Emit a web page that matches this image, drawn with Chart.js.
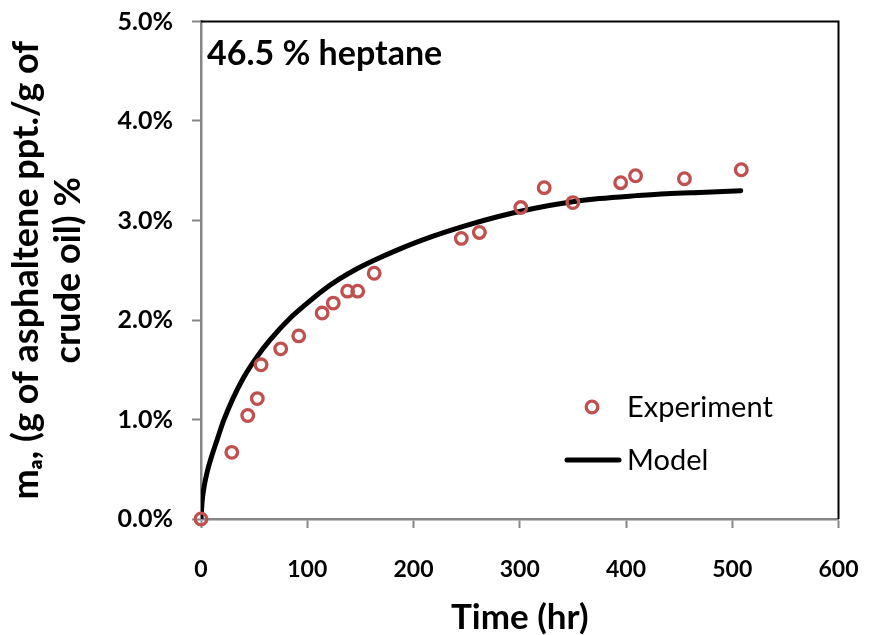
<!DOCTYPE html>
<html>
<head>
<meta charset="utf-8">
<script src="https://cdn.jsdelivr.net/npm/chart.js@4"></script>
<style>
  html, body { margin: 0; padding: 0; background: #fff; }
  #wrap { width: 869px; height: 635px; }
</style>
</head>
<body>
<div id="wrap"><canvas id="myChart"></canvas></div>
<script>
// experiment (time in hr, precipitated asphaltene in %)
const expTime = [0, 29, 44, 53, 56.5, 75, 92, 114, 124.5, 138, 147.5, 163, 245, 262, 301, 323, 350, 395, 409, 455, 508.5];
const expValue = [0, 0.67, 1.04, 1.21, 1.55, 1.71, 1.84, 2.07, 2.17, 2.29, 2.29, 2.47, 2.82, 2.88, 3.13, 3.33, 3.18, 3.38, 3.45, 3.42, 3.51];

// model curve
const modelTime = [0, 1, 3, 6, 10, 15, 21, 30, 40, 52, 65, 84, 100, 115, 130, 146, 165, 184, 210, 250, 280, 313, 345, 375, 410, 438, 475, 508];
const modelValue = [0, 0.17, 0.33, 0.48, 0.63, 0.79, 0.98, 1.21, 1.42, 1.62, 1.8, 2.02, 2.17, 2.3, 2.41, 2.51, 2.61, 2.7, 2.81, 2.95, 3.04, 3.12, 3.18, 3.22, 3.25, 3.27, 3.285, 3.3];

const xTicks = [0, 100, 200, 300, 400, 500, 600];
const yTicks = [0, 1, 2, 3, 4, 5];

const red = '#C0504D';
const gray = '#868686';
const fontFam = 'Lato, "Open Sans", sans-serif';

const frameAndLegend = {
  id: 'frameAndLegend',
  beforeDatasetsDraw(chart) {
    const {ctx, chartArea: a} = chart;
    ctx.save();
    ctx.strokeStyle = '#000';
    ctx.lineWidth = 2;
    ctx.beginPath();
    ctx.moveTo(a.left, a.top);
    ctx.lineTo(a.right, a.top);
    ctx.lineTo(a.right, a.bottom);
    ctx.stroke();
    ctx.restore();
  },
  afterDraw(chart) {
    const {ctx, chartArea: a} = chart;
    ctx.save();
    ctx.fillStyle = '#000';
    ctx.font = 'bold 34px ' + fontFam;
    ctx.textBaseline = 'alphabetic';
    ctx.fillText('46.5 % heptane', a.left + 6, 65);

    // legend
    const ds0 = chart.data.datasets[0];
    const ds1 = chart.data.datasets[1];
    ctx.beginPath();
    ctx.arc(592, 407, ds0.pointRadius, 0, Math.PI * 2);
    ctx.strokeStyle = ds0.borderColor;
    ctx.lineWidth = ds0.borderWidth;
    ctx.stroke();
    ctx.beginPath();
    ctx.moveTo(567, 460);
    ctx.lineTo(619, 460);
    ctx.strokeStyle = ds1.borderColor;
    ctx.lineWidth = ds1.borderWidth;
    ctx.lineCap = 'round';
    ctx.stroke();
    ctx.font = '29px ' + fontFam;
    ctx.fillText(ds0.label, 627, 417);
    ctx.fillText(ds1.label, 627, 470);
    ctx.restore();
  }
};

new Chart(document.getElementById('myChart'), {
  type: 'scatter',
  data: {
    datasets: [{
      label: 'Experiment',
      data: expTime.map((t, i) => ({x: t, y: expValue[i]})),
      pointStyle: 'circle',
      pointRadius: 5.8,
      pointBorderWidth: 3.3,
      borderWidth: 3.3,
      borderColor: red,
      backgroundColor: 'rgba(255,255,255,0)',
      clip: false
    }, {
      label: 'Model',
      type: 'line',
      data: modelTime.map((t, i) => ({x: t, y: modelValue[i]})),
      showLine: true,
      pointRadius: 0,
      borderWidth: 5,
      borderColor: '#000',
      borderCapStyle: 'round',
      cubicInterpolationMode: 'monotone',
      fill: false
    }]
  },
  options: {
    responsive: true,
    maintainAspectRatio: false,
    animation: false,
    layout: { autoPadding: false, padding: { top: 21.5, right: 30.5, left: 0, bottom: 0 } },
    plugins: {
      legend: { display: false },
      tooltip: { enabled: false }
    },
    scales: {
      x: {
        type: 'linear',
        min: 0, max: 600,
        afterFit(s) { s.height = 116; s.paddingLeft = 0; s.paddingRight = 0; },
        afterBuildTicks(s) { s.ticks = xTicks.map(v => ({value: v})); },
        grid: { drawOnChartArea: false, color: gray, tickLength: 9, tickWidth: 2 },
        border: { color: gray, width: 2.5 },
        ticks: { color: '#000', padding: 28, font: { family: fontFam, size: 23, weight: 'bold' } },
        title: {
          display: true, text: 'Time (hr)', color: '#000',
          padding: { top: 0, bottom: 0 },
          font: { family: fontFam, size: 35, weight: 'bold', lineHeight: 1.0 }
        }
      },
      y: {
        min: 0, max: 5,
        afterFit(s) { s.width = 201; s.paddingTop = 0; s.paddingBottom = 0; },
        afterBuildTicks(s) { s.ticks = yTicks.map(v => ({value: v})); },
        grid: { drawOnChartArea: false, color: gray, tickLength: 9, tickWidth: 2 },
        border: { color: gray, width: 2.5 },
        ticks: {
          color: '#000', padding: 19,
          font: { family: fontFam, size: 25, weight: 'bold' },
          callback: v => v.toFixed(1) + '%'
        },
        title: {
          display: true,
          text: ['m\u2090, (g of asphaltene ppt./g of', 'crude oil) %'],
          color: '#000',
          padding: { top: 5, bottom: 0 },
          font: { family: fontFam, size: 36, weight: 'bold', lineHeight: 1.167 }
        }
      }
    }
  },
  plugins: [frameAndLegend]
});
</script>
</body>
</html>
